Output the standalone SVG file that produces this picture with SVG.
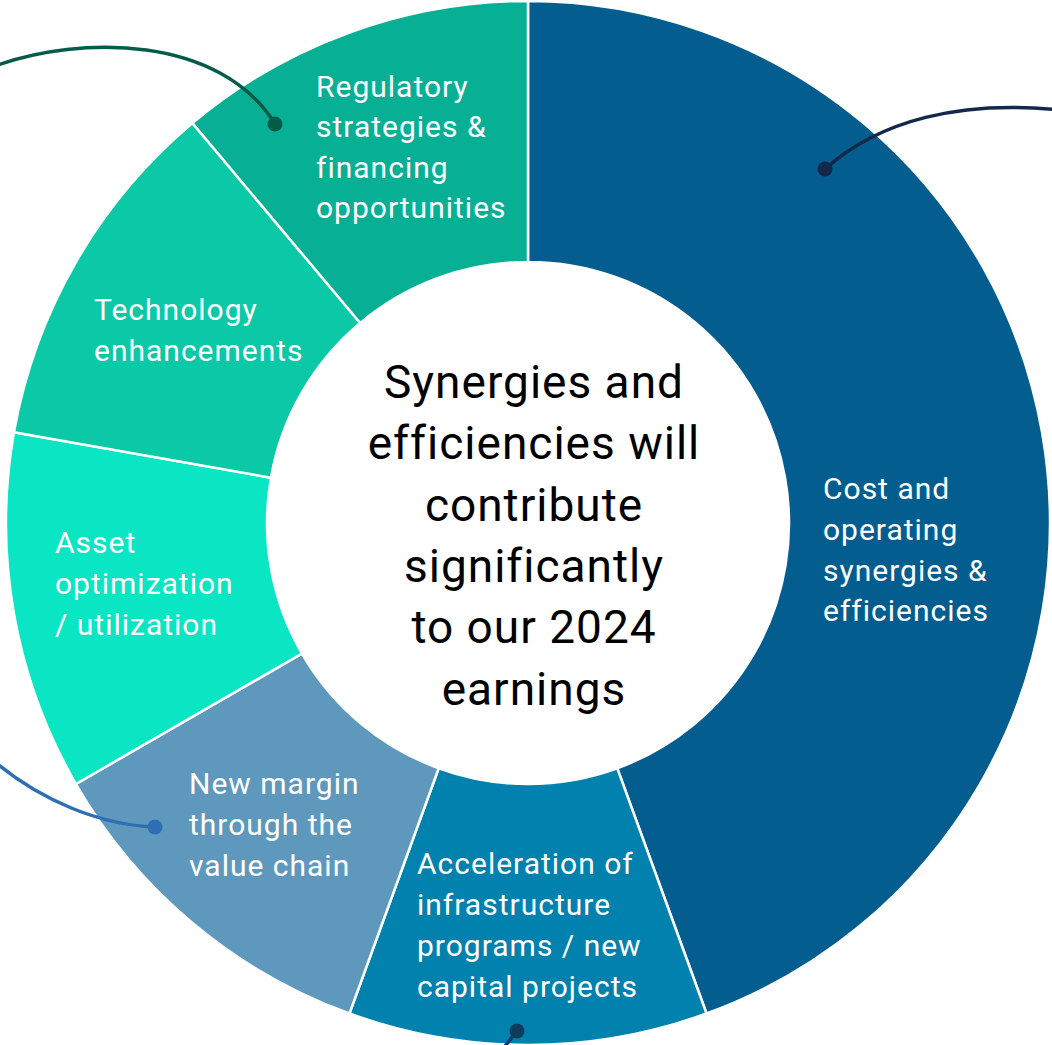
<svg xmlns="http://www.w3.org/2000/svg" width="1052" height="1045" viewBox="0 0 1052 1045">
  <style>
    .seg { stroke: #ffffff; stroke-width: 2.5; stroke-linejoin: miter; }
    .lbl { font-family: Roboto, "Liberation Sans", sans-serif; font-size: 30px; letter-spacing: 1px; fill: #ffffff; }
    .hub { font-family: Roboto, "Liberation Sans", sans-serif; font-size: 46px; letter-spacing: 1px; fill: #000000; text-anchor: middle; }
    .wire { fill: none; stroke-width: 3.5; stroke-linecap: round; }
  </style>
  <rect width="1052" height="1045" fill="#ffffff"/>

  <!-- donut segments, centre (528,523), outer r 522, inner r 261 -->
  <g id="cost-synergies">
    <path class="seg" fill="#035E8F" d="M528,1 A522,522 0 0 1 706.53,1013.52 L617.27,768.26 A261,261 0 0 0 528,262 Z"/>
    <text class="lbl" x="823" y="499">Cost and</text>
    <text class="lbl" x="823" y="540">operating</text>
    <text class="lbl" x="823" y="581">synergies &amp;</text>
    <text class="lbl" x="823" y="621">efficiencies</text>
  </g>
  <g id="infrastructure">
    <path class="seg" fill="#0181AE" d="M706.53,1013.52 A522,522 0 0 1 349.47,1013.52 L438.73,768.26 A261,261 0 0 0 617.27,768.26 Z"/>
    <text class="lbl" x="417" y="874">Acceleration of</text>
    <text class="lbl" x="417" y="915">infrastructure</text>
    <text class="lbl" x="417" y="956">programs / new</text>
    <text class="lbl" x="417" y="997">capital projects</text>
  </g>
  <g id="value-chain">
    <path class="seg" fill="#5F98BD" d="M349.47,1013.52 A522,522 0 0 1 75.93,784 L301.97,653.5 A261,261 0 0 0 438.73,768.26 Z"/>
    <text class="lbl" x="189" y="794">New margin</text>
    <text class="lbl" x="189" y="835">through the</text>
    <text class="lbl" x="189" y="876">value chain</text>
  </g>
  <g id="asset-optimization">
    <path class="seg" fill="#0AE5C3" d="M75.93,784 A522,522 0 0 1 13.93,432.35 L270.96,477.68 A261,261 0 0 0 301.97,653.5 Z"/>
    <text class="lbl" x="55" y="553">Asset</text>
    <text class="lbl" x="55" y="594">optimization</text>
    <text class="lbl" x="55" y="635">/ utilization</text>
  </g>
  <g id="technology">
    <path class="seg" fill="#0BC9A7" d="M13.93,432.35 A522,522 0 0 1 192.46,123.13 L360.23,323.06 A261,261 0 0 0 270.96,477.68 Z"/>
    <text class="lbl" x="94" y="320">Technology</text>
    <text class="lbl" x="94" y="361">enhancements</text>
  </g>
  <g id="regulatory">
    <path class="seg" fill="#07B095" d="M192.46,123.13 A522,522 0 0 1 528,1 L528,262 A261,261 0 0 0 360.23,323.06 Z"/>
    <text class="lbl" x="316" y="97">Regulatory</text>
    <text class="lbl" x="316" y="137">strategies &amp;</text>
    <text class="lbl" x="316" y="178">financing</text>
    <text class="lbl" x="316" y="218">opportunities</text>
  </g>

  <g id="hub">
    <text class="hub" x="534" y="398">Synergies and</text>
    <text class="hub" x="534" y="459">efficiencies will</text>
    <text class="hub" x="534" y="521">contribute</text>
    <text class="hub" x="534" y="582">significantly</text>
    <text class="hub" x="534" y="643">to our 2024</text>
    <text class="hub" x="534" y="705">earnings</text>
  </g>

  <!-- call-out connectors -->
  <g id="connectors">
    <path class="wire" stroke="#035C4A" d="M-5,66 C80,35 220,35 275,124"/>
    <circle cx="275" cy="124" r="7.5" fill="#035C4A"/>
    <path class="wire" stroke="#13294B" d="M825,169 C880,120 960,100 1060,110"/>
    <circle cx="825" cy="169" r="7.5" fill="#13294B"/>
    <path class="wire" stroke="#2E6EB2" d="M-5,762 C40,800 100,825 155,827"/>
    <circle cx="155" cy="827" r="7.5" fill="#2E6EB2"/>
    <path class="wire" stroke="#0D3D5B" d="M517,1031 L502,1050"/>
    <circle cx="517" cy="1031" r="7.5" fill="#0D3D5B"/>
  </g>
</svg>
